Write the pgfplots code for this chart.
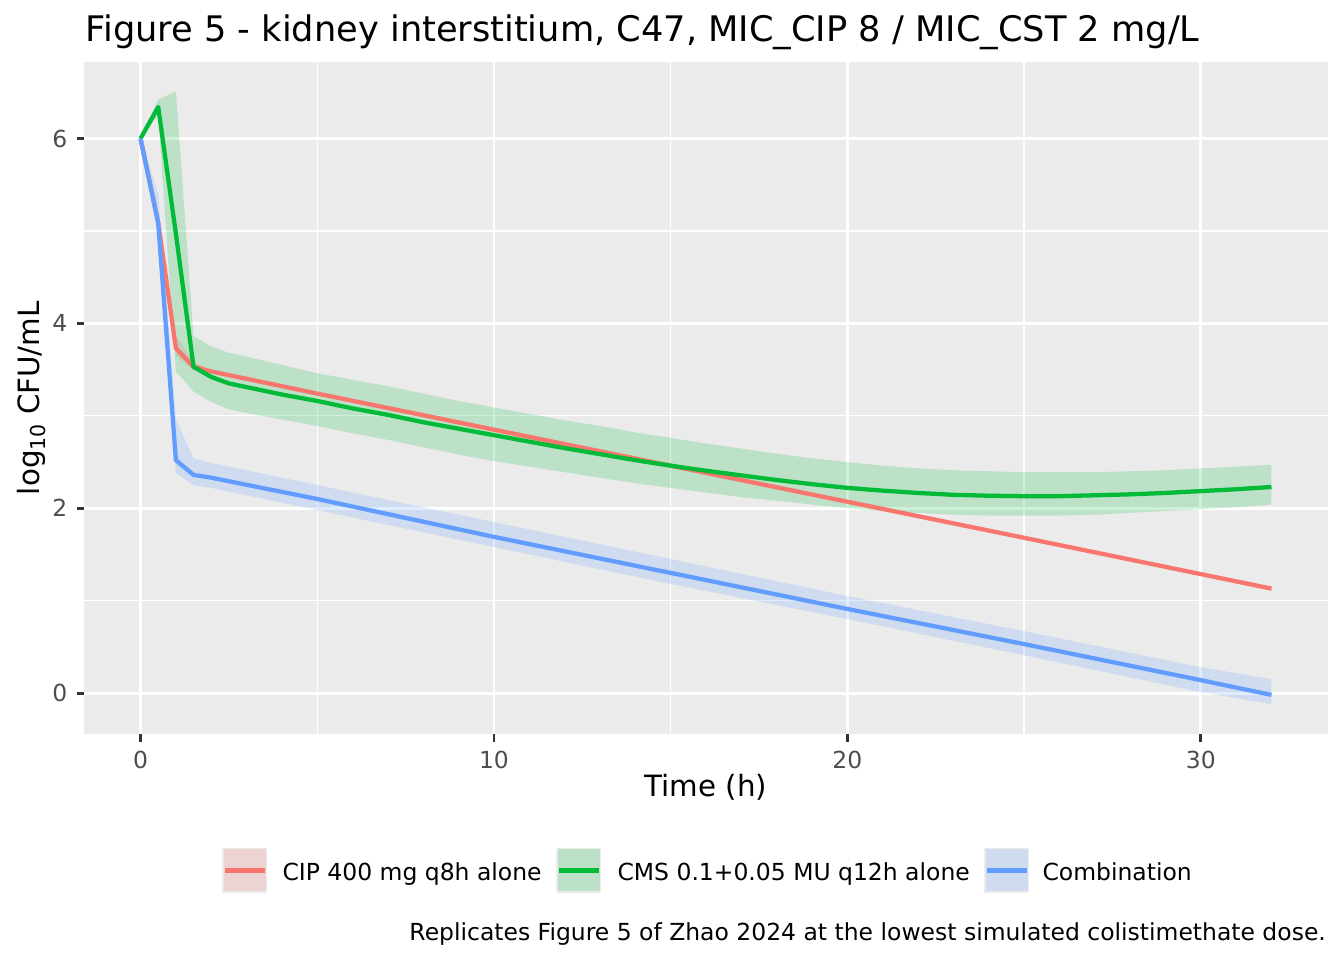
\documentclass[border=0pt]{standalone}
\usepackage{pgfplots}
\pgfplotsset{compat=1.18}
\usepackage{pgfplotstable}
\usepgfplotslibrary{fillbetween}
\usepackage{fontspec}
\setmainfont{DejaVu Sans}
\definecolor{ggred}{HTML}{F8766D}
\definecolor{gggreen}{HTML}{00BA38}
\definecolor{ggblue}{HTML}{619CFF}
\definecolor{ggbg}{HTML}{EBEBEB}
\definecolor{grey20}{HTML}{333333}
\definecolor{grey30}{HTML}{4D4D4D}

\pgfplotstableread{
t y lo hi
0 6.00 6.00 6.00
0.5 5.09 4.97 5.20
1 3.73 3.65 3.87
1.5 3.53 3.49 3.58
2 3.48 3.46 3.50
5 3.24 3.22 3.26
10 2.85 2.83 2.87
15 2.46 2.44 2.48
20 2.07 2.05 2.09
25 1.68 1.66 1.70
32 1.13 1.11 1.15
}\cipdata

\pgfplotstableread{
t y lo hi
0 6.00 6.00 6.00
0.5 6.34 6.25 6.42
1 4.97 3.48 6.51
1.5 3.53 3.26 3.86
2 3.42 3.15 3.75
2.5 3.35 3.07 3.68
3 3.31 3.03 3.64
4 3.23 2.96 3.55
5 3.16 2.89 3.46
6 3.08 2.81 3.39
7 3.01 2.74 3.32
8 2.93 2.66 3.24
9 2.86 2.58 3.16
10 2.79 2.51 3.09
11 2.72 2.45 3.02
12 2.65 2.39 2.95
13 2.585 2.33 2.89
14 2.52 2.27 2.82
15 2.46 2.22 2.76
16 2.405 2.17 2.70
17 2.355 2.12 2.645
18 2.305 2.08 2.59
19 2.26 2.04 2.54
20 2.22 2.00 2.50
21 2.19 1.97 2.46
22 2.165 1.95 2.43
23 2.145 1.93 2.41
24 2.135 1.92 2.40
25 2.13 1.92 2.39
26 2.13 1.92 2.39
27 2.14 1.93 2.39
28 2.15 1.95 2.40
29 2.165 1.97 2.41
30 2.185 1.99 2.43
31 2.205 2.01 2.45
32 2.23 2.04 2.47
}\cmsdata

\pgfplotstableread{
t y lo hi
0 6.00 6.00 6.00
0.5 5.08 4.95 5.40
1 2.52 2.38 2.96
1.5 2.36 2.25 2.54
2 2.33 2.22 2.49
5 2.10 1.98 2.25
10 1.69 1.58 1.85
15 1.30 1.18 1.45
20 0.91 0.80 1.05
25 0.53 0.41 0.67
30 0.14 0.01 0.28
32 -0.02 -0.12 0.15
}\combdata

\begin{document}
\begin{tikzpicture}
\begin{axis}[
  at={(31.5pt,84.64pt)}, anchor=south west,
  scale only axis, width=466.5pt, height=252.2pt,
  xmin=-1.6, xmax=33.6, ymin=-0.446, ymax=6.83,
  axis background/.style={fill=ggbg},
  axis line style={draw=none},
  xtick={0,10,20,30}, ytick={0,2,4,6},
  minor xtick={5,15,25}, minor ytick={1,3,5},
  grid=both,
  major grid style={white, line width=1.07pt},
  minor grid style={white, line width=0.53pt},
  tick align=outside, major tick length=2.75pt, minor tick length=0pt,
  tick pos=left,
  every tick/.style={grey20, line width=1.07pt},
  tick label style={font=\fontsize{8.8}{10}\selectfont, text=grey30},
  /pgf/number format/assume math mode=true,
]
% ribbons
\addplot[draw=none, name path=clo] table[x=t,y=lo]{\cipdata};
\addplot[draw=none, name path=chi] table[x=t,y=hi]{\cipdata};
\addplot[fill=ggred, fill opacity=0.2, draw=none] fill between[of=chi and clo];
\addplot[draw=none, name path=glo] table[x=t,y=lo]{\cmsdata};
\addplot[draw=none, name path=ghi] table[x=t,y=hi]{\cmsdata};
\addplot[fill=gggreen, fill opacity=0.2, draw=none] fill between[of=ghi and glo];
\addplot[draw=none, name path=blo] table[x=t,y=lo]{\combdata};
\addplot[draw=none, name path=bhi] table[x=t,y=hi]{\combdata};
\addplot[fill=ggblue, fill opacity=0.2, draw=none] fill between[of=bhi and blo];
% lines
\addplot[ggred, line width=1.6pt, line join=round] table[x=t,y=y]{\cipdata};
\addplot[gggreen, line width=1.6pt, line join=round] table[x=t,y=y]{\cmsdata};
\addplot[ggblue, line width=1.6pt, line join=round] table[x=t,y=y]{\combdata};
\end{axis}
% titles
\node[anchor=base west, inner sep=0pt, font=\fontsize{13.2}{15}\selectfont] at (31.9pt,344.4pt) {Figure 5 - kidney interstitium, C47, MIC\_CIP 8 / MIC\_CST 2 mg/L};
\node[anchor=base, inner sep=0pt, font=\fontsize{11}{13}\selectfont] at (264.75pt,61.2pt) {Time (h)};
\node[anchor=base, inner sep=0pt, rotate=90, font=\fontsize{11}{13}\selectfont] at (14.8pt,210.7pt) {log\raisebox{-0.35ex}{\fontsize{7.7}{9}\selectfont 10}\ CFU/mL};
% legend
\foreach \kx/\col in {83.25/ggred, 208.5/gggreen, 369/ggblue}{
  \fill[ggbg] (\kx pt,25.1pt) rectangle ++(17pt,17pt);
  \fill[\col, opacity=0.2] ({\kx pt+0.6pt},25.7pt) rectangle ++(15.8pt,15.8pt);
  \draw[\col, line width=1.6pt] ({\kx pt+1pt},33.6pt) -- ++(15pt,0pt);
}
\node[anchor=base west, inner sep=0pt, font=\fontsize{8.8}{10}\selectfont] at (105.75pt,30.0pt) {CIP 400 mg q8h alone};
\node[anchor=base west, inner sep=0pt, font=\fontsize{8.8}{10}\selectfont] at (231.4pt,30.0pt) {CMS 0.1+0.05 MU q12h alone};
\node[anchor=base west, inner sep=0pt, font=\fontsize{8.8}{10}\selectfont] at (390.75pt,30.0pt) {Combination};
\node[anchor=base east, inner sep=0pt, font=\fontsize{8.8}{10}\selectfont] at (497.4pt,7.2pt) {Replicates Figure 5 of Zhao 2024 at the lowest simulated colistimethate dose.};
\path (0,0) rectangle (504pt,360pt);
\end{tikzpicture}
\end{document}
